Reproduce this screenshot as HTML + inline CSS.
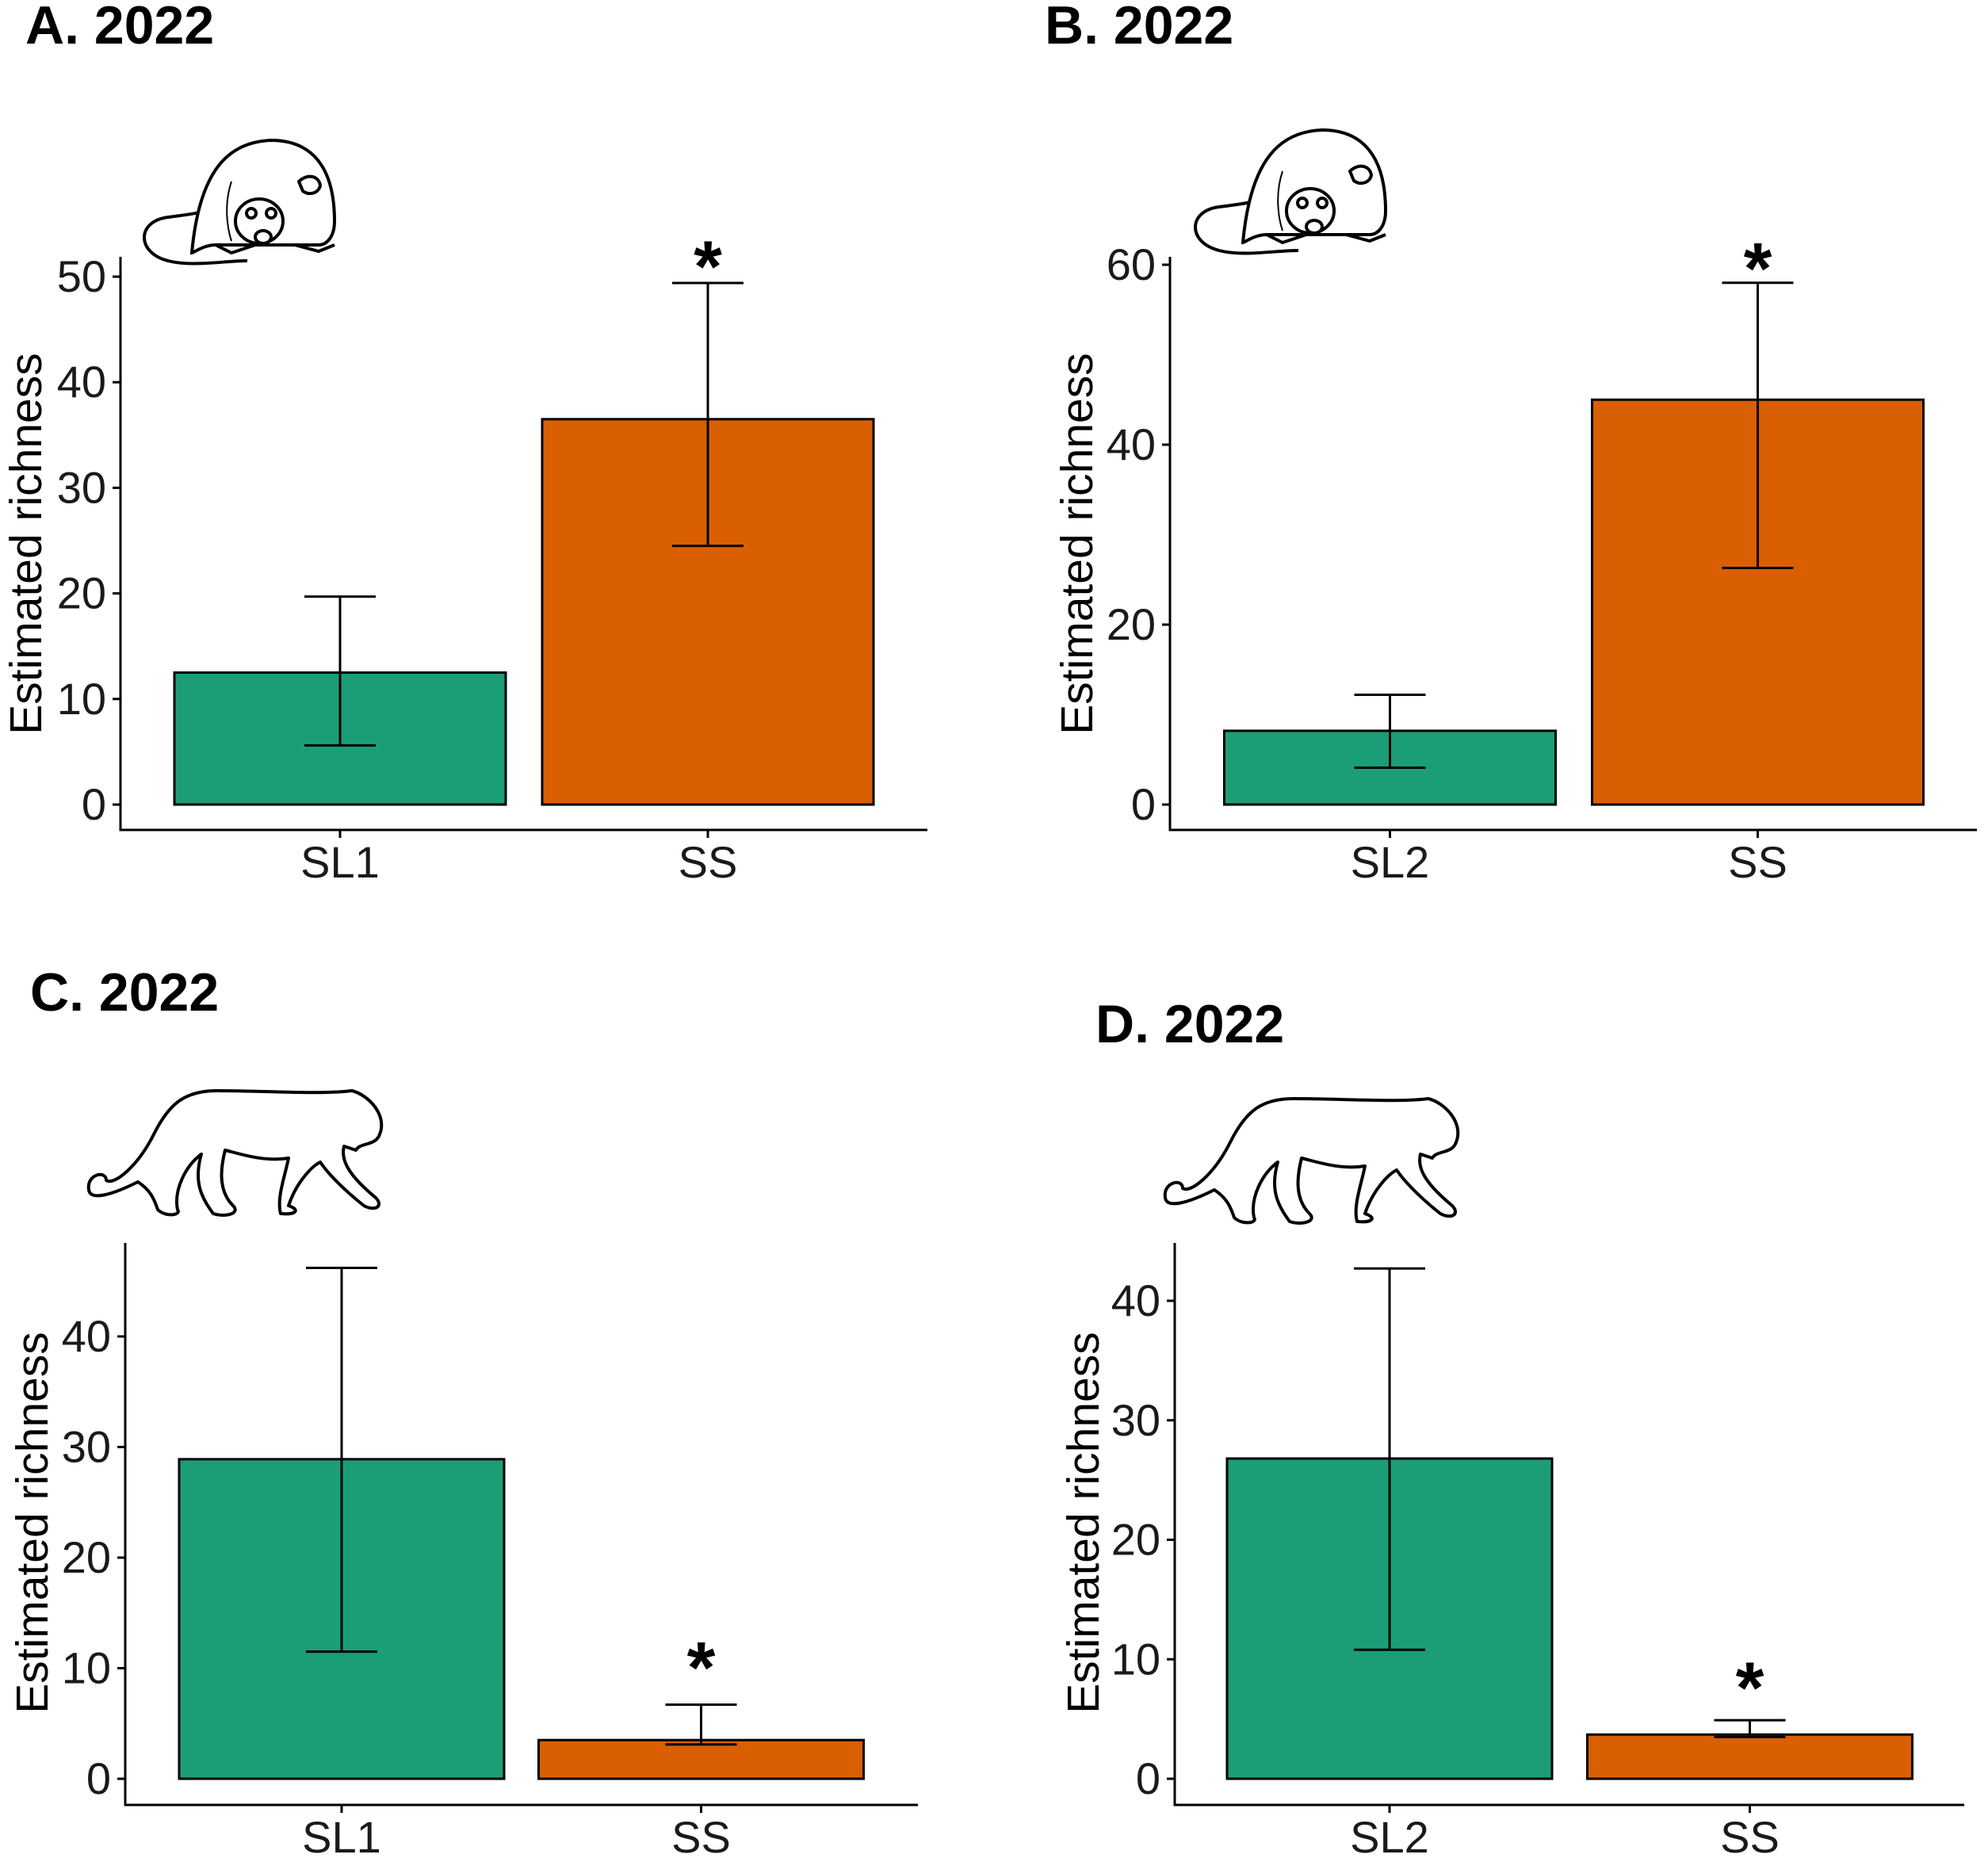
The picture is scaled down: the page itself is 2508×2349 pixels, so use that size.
<!DOCTYPE html>
<html><head><meta charset="utf-8">
<style>
html,body{margin:0;padding:0;background:#fff;}
svg{display:block;font-family:"Liberation Sans",Arial,sans-serif;}
</style></head>
<body>
<svg id="fig" width="2508" height="2349" viewBox="0 0 2508 2349" xmlns="http://www.w3.org/2000/svg">
<rect width="2508" height="2349" fill="#fff"/>
<text x="32" y="55" font-size="68" font-weight="bold">A. 2022</text>
<text x="1318" y="55" font-size="68" font-weight="bold">B. 2022</text>
<text x="38" y="1275" font-size="68" font-weight="bold">C. 2022</text>
<text x="1382" y="1315" font-size="68" font-weight="bold">D. 2022</text>

<!-- rat icon A -->
<g transform="translate(172,169)" fill="#fff" stroke="#000" stroke-width="4">
<path d="M40 160 C0 150 0 110 40 105 C80 100 110 95 125 85" fill="none"/>
<path d="M40 160 C70 168 110 160 140 160" fill="none"/>
<path d="M70 150 C80 40 120 10 170 8 C220 8 250 40 250 110 C250 130 240 140 230 140 L100 140 C85 140 72 150 70 150Z"/>
<path d="M120 60 C110 90 115 120 120 135" fill="none" stroke-width="2"/>
<ellipse cx="155" cy="110" rx="30" ry="28"/>
<circle cx="145" cy="100" r="6"/><circle cx="170" cy="100" r="6"/>
<ellipse cx="160" cy="130" rx="10" ry="8"/>
<path d="M205 60 C215 50 230 52 232 65 C230 75 218 78 210 72Z"/>
<path d="M100 140 L120 150 L150 140 M200 140 L230 148 L250 140" fill="none"/>
</g>
<!-- rat icon B -->
<g transform="translate(1498,156)" fill="#fff" stroke="#000" stroke-width="4">
<path d="M40 160 C0 150 0 110 40 105 C80 100 110 95 125 85" fill="none"/>
<path d="M40 160 C70 168 110 160 140 160" fill="none"/>
<path d="M70 150 C80 40 120 10 170 8 C220 8 250 40 250 110 C250 130 240 140 230 140 L100 140 C85 140 72 150 70 150Z"/>
<path d="M120 60 C110 90 115 120 120 135" fill="none" stroke-width="2"/>
<ellipse cx="155" cy="110" rx="30" ry="28"/>
<circle cx="145" cy="100" r="6"/><circle cx="170" cy="100" r="6"/>
<ellipse cx="160" cy="130" rx="10" ry="8"/>
<path d="M205 60 C215 50 230 52 232 65 C230 75 218 78 210 72Z"/>
<path d="M100 140 L120 150 L150 140 M200 140 L230 148 L250 140" fill="none"/>
</g>
<!-- cat icon C -->
<g transform="translate(104,1371)" fill="#fff" stroke="#000" stroke-width="4" stroke-linejoin="round">
<path d="M70 120 C40 135 10 145 8 130 C5 110 30 105 30 118 C40 125 70 100 90 60 C110 20 130 5 170 5 C230 5 300 10 340 5 C360 10 385 35 375 60 C370 75 350 70 345 80 L330 75 C325 95 340 115 370 140 C380 150 370 158 355 150 C330 130 310 110 300 95 C290 100 270 120 260 150 C275 155 270 162 250 160 C245 140 255 115 260 90 C230 95 200 85 180 80 C175 100 170 130 190 150 C200 160 180 165 165 160 C150 140 140 120 150 85 C130 100 115 130 120 155 C125 162 105 165 95 155 C90 140 85 130 70 120Z"/>
</g>
<!-- cat icon D -->
<g transform="translate(1462,1381)" fill="#fff" stroke="#000" stroke-width="4" stroke-linejoin="round">
<path d="M70 120 C40 135 10 145 8 130 C5 110 30 105 30 118 C40 125 70 100 90 60 C110 20 130 5 170 5 C230 5 300 10 340 5 C360 10 385 35 375 60 C370 75 350 70 345 80 L330 75 C325 95 340 115 370 140 C380 150 370 158 355 150 C330 130 310 110 300 95 C290 100 270 120 260 150 C275 155 270 162 250 160 C245 140 255 115 260 90 C230 95 200 85 180 80 C175 100 170 130 190 150 C200 160 180 165 165 160 C150 140 140 120 150 85 C130 100 115 130 120 155 C125 162 105 165 95 155 C90 140 85 130 70 120Z"/>
</g>
</svg>
<script>
// Panel A
const catsA = ["SL1", "SS"];
const valsA = [12.5, 36.5];
const lowA = [5.6, 24.5];
const highA = [19.7, 49.4];
const ticksA = [0, 10, 20, 30, 40, 50];
const starA = [false, true];
// Panel B
const catsB = ["SL2", "SS"];
const valsB = [8.2, 45.0];
const lowB = [4.1, 26.3];
const highB = [12.2, 58.0];
const ticksB = [0, 20, 40, 60];
const starB = [false, true];
// Panel C
const catsC = ["SL1", "SS"];
const valsC = [28.9, 3.5];
const lowC = [11.5, 3.1];
const highC = [46.2, 6.7];
const ticksC = [0, 10, 20, 30, 40];
const starC = [false, true];
// Panel D
const catsD = ["SL2", "SS"];
const valsD = [26.8, 3.7];
const lowD = [10.8, 3.5];
const highD = [42.7, 4.9];
const ticksD = [0, 10, 20, 30, 40];
const starD = [false, true];

const colors = ["#1b9e77", "#d95f02"];
const NS = "http://www.w3.org/2000/svg";
const svg = document.getElementById("fig");

function mk(tag, attrs, parent) {
  const e = document.createElementNS(NS, tag);
  for (const k in attrs) e.setAttribute(k, attrs[k]);
  parent.appendChild(e);
  return e;
}

function panel(id, L, cats, vals, low, high, ticks, star) {
  const g = mk("g", {}, svg);
  
  
  const yy = v => L.y0 + (L.yTop - L.y0) * v / L.vTop;
  const cx = i => L.xAxis + L.pad + L.step * i;
  const ya = mk("line", {x1: L.xAxis, y1: L.axTop, x2: L.xAxis, y2: L.xAxisY, stroke: "#000", "stroke-width": 3}, g);
  
  
  const xa = mk("line", {x1: L.xAxis - 1.5, y1: L.xAxisY, x2: L.xEnd, y2: L.xAxisY, stroke: "#000", "stroke-width": 3}, g);
  
  
  ticks.forEach(t => {
    const ty = yy(t);
    const tk = mk("line", {x1: L.xAxis - 10, y1: ty, x2: L.xAxis, y2: ty, stroke: "#000", "stroke-width": 3}, g);
    
    
    const tl = mk("text", {x: L.xAxis - 18, y: ty + 19, "font-size": 56, "text-anchor": "end", fill: "#1a1a1a"}, g);
    tl.textContent = t;
    
    
  });
  const yt = mk("text", {x: 0, y: 0, "font-size": 57, "text-anchor": "middle", transform: `translate(${L.titleX},${L.titleY}) rotate(-90)`, fill: "#000"}, g);
  yt.textContent = "Estimated richness";
  
  
  cats.forEach((c, i) => {
    const x = cx(i);
    const bw = L.bw;
    const bar = mk("rect", {x: x - bw / 2, y: yy(vals[i]), width: bw, height: yy(0) - yy(vals[i]), fill: colors[i], stroke: "#000", "stroke-width": 3}, g);
    
    
    const eg = mk("g", {stroke: "#000", "stroke-width": 3}, g);
    
    
    const cw = 45;
    mk("line", {x1: x, y1: yy(low[i]), x2: x, y2: yy(high[i])}, eg);
    mk("line", {x1: x - cw, y1: yy(low[i]), x2: x + cw, y2: yy(low[i])}, eg);
    mk("line", {x1: x - cw, y1: yy(high[i]), x2: x + cw, y2: yy(high[i])}, eg);
    const xt = mk("line", {x1: x, y1: L.xAxisY, x2: x, y2: L.xAxisY + 10, stroke: "#000", "stroke-width": 3}, g);
    
    
    const xl = mk("text", {x: x, y: L.xAxisY + 60, "font-size": 56, "text-anchor": "middle", fill: "#1a1a1a"}, g);
    xl.textContent = c;
    
    
    if (star[i]) {
      const s = mk("text", {x: x, y: yy(high[i]) + L.starOff + 6, "font-size": 92, "font-weight": "bold", "text-anchor": "middle"}, g);
      s.textContent = "*";
      
      
    }
  });
}

panel("a", {xAxis: 152, xEnd: 1170, pad: 277, step: 464, bw: 418, axTop: 324, xAxisY: 1047, y0: 1015, yTop: 349, vTop: 50, titleX: 52, titleY: 686, starOff: 5}, catsA, valsA, lowA, highA, ticksA, starA);
panel("b", {xAxis: 1476, xEnd: 2494, pad: 277.5, step: 464, bw: 418, axTop: 324, xAxisY: 1047, y0: 1015, yTop: 334, vTop: 60, titleX: 1378, titleY: 686, starOff: 8}, catsB, valsB, lowB, highB, ticksB, starB);
panel("c", {xAxis: 158, xEnd: 1158, pad: 273, step: 453.5, bw: 410, axTop: 1568, xAxisY: 2277, y0: 2244, yTop: 1686, vTop: 40, titleX: 60, titleY: 1921, starOff: -21}, catsC, valsC, lowC, highC, ticksC, starC);
panel("d", {xAxis: 1482, xEnd: 2478, pad: 271, step: 454.5, bw: 410, axTop: 1568, xAxisY: 2277, y0: 2244, yTop: 1641, vTop: 40, titleX: 1386, titleY: 1921, starOff: -15}, catsD, valsD, lowD, highD, ticksD, starD);
</script>
</body></html>
